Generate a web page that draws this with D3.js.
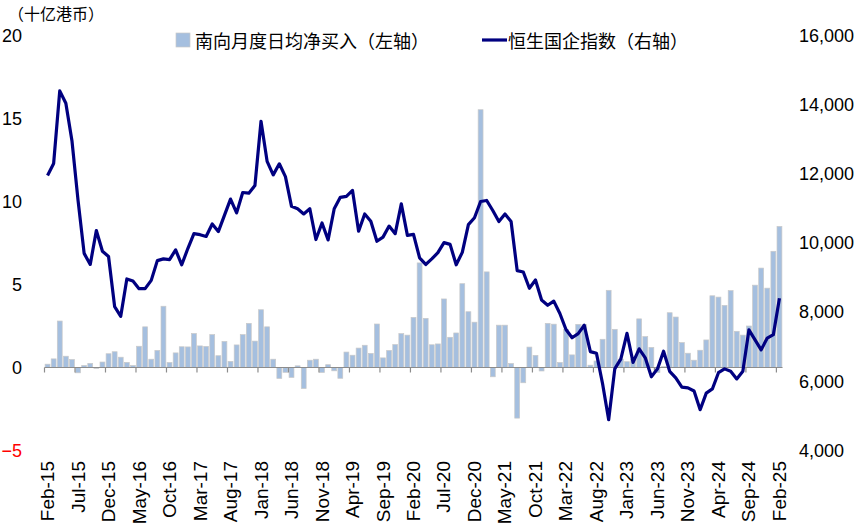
<!DOCTYPE html>
<html><head><meta charset="utf-8">
<script src="https://cdn.jsdelivr.net/npm/d3@7"></script>
<style>body{margin:0;background:#fff} svg{display:block}</style>
</head><body><svg id="c" width="865" height="529"></svg>
<script>
// ---- data ----
const monthNames = ["Jan","Feb","Mar","Apr","May","Jun","Jul","Aug","Sep","Oct","Nov","Dec"];
const categories = [];
for (let y = 15; y <= 25; y++) for (let m = 0; m < 12; m++) {
  if ((y === 15 && m < 1) || (y === 25 && m > 1)) continue;
  categories.push(monthNames[m] + "-" + y);
}
const tickLabels = ["Feb-15","Jul-15","Dec-15","May-16","Oct-16","Mar-17","Aug-17","Jan-18","Jun-18","Nov-18","Apr-19","Sep-19","Feb-20","Jul-20","Dec-20","May-21","Oct-21","Mar-22","Aug-22","Jan-23","Jun-23","Nov-23","Apr-24","Sep-24","Feb-25"];
// Southbound monthly average daily net buying (HKD bn), left axis
const southbound = [0.2,0.52,2.8,0.68,0.48,-0.32,0.12,0.25,-0.05,0.33,
  0.83,0.95,0.62,0.31,0.12,1.28,2.45,0.5,1.03,3.69,
  0.3,0.88,1.25,1.24,2.05,1.3,1.27,1.98,0.71,1.57,
  0.37,1.36,1.98,2.66,1.59,3.48,2.45,0.5,-0.66,-0.29,
  -0.6,0.1,-1.27,0.44,0.5,-0.3,0.17,-0.2,-0.65,0.93,
  0.74,1.17,1.34,0.85,2.62,0.58,1.03,1.38,2.04,1.95,
  3.02,6.3,2.96,1.37,1.42,4.13,1.82,2.08,5.05,3.36,
  2.73,15.53,5.76,-0.56,2.55,2.55,0.24,-3.05,-0.92,1.23,
  0.73,-0.21,2.66,2.61,0.3,2.29,0.76,2.6,2.58,0.14,
  0.39,1.7,4.65,2.3,0.5,0.35,0.5,2.93,1.86,1.21,
  -0.3,0.05,3.3,3.04,1.5,0.86,0.44,1.04,1.66,4.32,
  4.24,3.74,4.63,2.18,1.95,2.5,4.96,5.99,4.78,7.0,8.5];
// Hang Seng China Enterprises Index, right axis
const hscei = [11950,12300,14400,14040,12960,11230,9700,9380,10360,9760,
  9610,8160,7880,8960,8900,8680,8680,8920,9490,9540,
  9520,9800,9370,9840,10270,10240,10190,10550,10330,10800,
  11270,10870,11460,11440,11660,13520,12360,11970,12290,11920,
  11060,10990,10840,10990,10100,10580,10090,10990,11320,11350,
  11520,10340,10840,10630,10050,10170,10490,10270,11130,10220,
  10250,9570,9380,9540,9720,10010,9960,9370,9730,10530,
  10730,11200,11230,10940,10620,10840,10620,9200,9160,8690,
  8930,8350,8200,8320,7960,7500,7260,7380,7620,6860,
  6810,5930,4890,6360,6650,7390,6550,6940,6680,6130,
  6360,6870,6290,6100,5830,5810,5720,5180,5660,5780,
  6250,6360,6290,6070,6290,7490,7200,6910,7250,7350,8400];
const leftTicks = [-5,0,5,10,15,20];
const rightTicks = [4000,6000,8000,10000,12000,14000,16000];
const unitLabel = "（十亿港币）";
const legendBar = "南向月度日均净买入（左轴）";
const legendLine = "恒生国企指数（右轴）";

// ---- drawing ----
const svg = d3.select("#c");
const latin = "'Liberation Sans', Arial, sans-serif";
const cjk = "'Noto Sans CJK SC', sans-serif";
const barFill = "#a5bfdf", barStroke = "#c9c9c9", lineColor = "#000080";

const x = d3.scaleBand().domain(categories).range([44.5, 782.5]).padding(0);
const step = x.step();
const yL = d3.scaleLinear().domain([-5, 20]).range([450.5, 35.5]);
const yR = d3.scaleLinear().domain([4000, 16000]).range([450.5, 35.5]);

// bars
svg.append("g").selectAll("rect").data(southbound).join("rect")
  .attr("x", (d, i) => x(categories[i]) + step * 0.1)
  .attr("width", step * 0.8)
  .attr("y", d => Math.min(yL(d), yL(0)))
  .attr("height", d => Math.abs(yL(d) - yL(0)))
  .attr("fill", barFill).attr("stroke", barStroke).attr("stroke-width", 0.7);

// category axis at zero
const gx = svg.append("g");
gx.append("line").attr("x1", x.range()[0]).attr("x2", x.range()[1])
  .attr("y1", yL(0)).attr("y2", yL(0)).attr("stroke", "#8c8c8c").attr("stroke-width", 1.2);
gx.selectAll("line.tk").data(tickLabels).join("line").attr("class", "tk")
  .attr("x1", d => x(d)).attr("x2", d => x(d))
  .attr("y1", yL(0)).attr("y2", yL(0) + 5).attr("stroke", "#8c8c8c").attr("stroke-width", 1.2);
gx.selectAll("text").data(tickLabels).join("text")
  .attr("transform", d => `translate(${x(d) + step / 2},461) rotate(-90)`)
  .attr("text-anchor", "end").attr("dominant-baseline", "central")
  .attr("font-family", latin).attr("font-size", 19).attr("fill", "#000")
  .text(d => d);

// line
const line = d3.line().x((d, i) => x(categories[i]) + step / 2).y(d => yR(d));
svg.append("path").datum(hscei).attr("d", line)
  .attr("fill", "none").attr("stroke", lineColor).attr("stroke-width", 3.2)
  .attr("stroke-linejoin", "round");

// left axis
const gl = svg.append("g").attr("transform", "translate(22,0)")
  .call(d3.axisLeft(yL).tickValues(leftTicks).tickSize(0).tickPadding(0).tickFormat(d3.format("d")));
gl.select(".domain").remove();
gl.selectAll("text").attr("font-family", latin).attr("font-size", 18)
  .attr("fill", d => d < 0 ? "#ff0000" : "#000");

// right axis
const gr = svg.append("g").attr("transform", "translate(799,0)")
  .call(d3.axisRight(yR).tickValues(rightTicks).tickSize(0).tickPadding(0).tickFormat(d3.format(",")));
gr.select(".domain").remove();
gr.selectAll("text").attr("font-family", latin).attr("font-size", 18).attr("fill", "#000");

// unit label
svg.append("text").attr("x", 8).attr("y", 20).attr("font-family", cjk).attr("font-size", 16)
  .attr("fill", "#000").text(unitLabel);

// legend
svg.append("rect").attr("x", 176).attr("y", 33).attr("width", 14).attr("height", 14)
  .attr("fill", barFill).attr("stroke", barStroke).attr("stroke-width", 0.7);
svg.append("text").attr("x", 195).attr("y", 40).attr("dominant-baseline", "central")
  .attr("font-family", cjk).attr("font-size", 18).attr("fill", "#000").text(legendBar);
svg.append("line").attr("x1", 482).attr("x2", 507).attr("y1", 40).attr("y2", 40)
  .attr("stroke", lineColor).attr("stroke-width", 3.2);
svg.append("text").attr("x", 508).attr("y", 40).attr("dominant-baseline", "central")
  .attr("font-family", cjk).attr("font-size", 18).attr("fill", "#000").text(legendLine);
</script></body></html>
